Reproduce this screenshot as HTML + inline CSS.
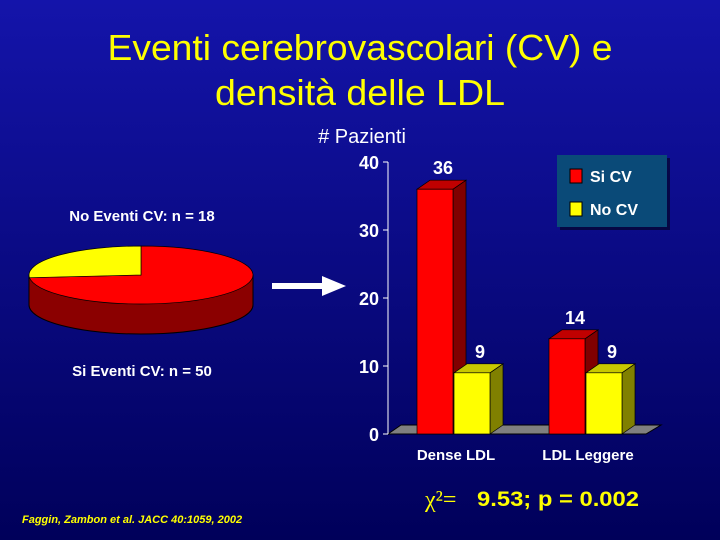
<!DOCTYPE html>
<html><head><meta charset="utf-8"><style>
body{margin:0;width:720px;height:540px;overflow:hidden;background:linear-gradient(#1414aa,#00005a);font-family:"Liberation Sans",sans-serif}
svg{display:block}
</style></head><body>
<svg width="720" height="540">
<g font-family="Liberation Sans, sans-serif">
<text x="360" y="60" fill="#ffff00" font-size="36" text-anchor="middle" textLength="505" lengthAdjust="spacingAndGlyphs">Eventi cerebrovascolari (CV) e</text>
<text x="360" y="105" fill="#ffff00" font-size="36" text-anchor="middle" textLength="290" lengthAdjust="spacingAndGlyphs">densità delle LDL</text>
<text x="142" y="221" fill="#fff" font-size="15" font-weight="bold" text-anchor="middle">No Eventi CV: n = 18</text>
<text x="142" y="376" fill="#fff" font-size="15" font-weight="bold" text-anchor="middle">Si Eventi CV: n = 50</text>
<g id="pie"></g>
<g><rect x="272" y="283" width="56" height="6" fill="#fff"/><polygon points="322,276 346,286 322,296" fill="#fff"/></g>
<text x="362" y="143" fill="#fff" font-size="20" text-anchor="middle"># Pazienti</text>
<g id="chart"></g>
<g>
<rect x="560" y="158" width="110" height="72" fill="#000" opacity="0.5"/>
<rect x="557" y="155" width="110" height="72" fill="#0a4a78"/>
<rect x="570" y="169" width="12" height="14" fill="#ff0000" stroke="#000"/>
<text x="590" y="182" fill="#fff" font-size="16" font-weight="bold">Si CV</text>
<rect x="570" y="202" width="12" height="14" fill="#ffff00" stroke="#000"/>
<text x="590" y="215" fill="#fff" font-size="16" font-weight="bold">No CV</text>
</g>
<text x="425" y="507" fill="#ffff00" font-size="24" font-family="Liberation Serif, serif">χ²=</text>
<text x="477" y="506" fill="#ffff00" font-size="21" font-weight="bold" textLength="162" lengthAdjust="spacingAndGlyphs">9.53; p = 0.002</text>
<text x="22" y="523" fill="#ffff00" font-size="11" font-weight="bold" font-style="italic">Faggin, Zambon et al. JACC 40:1059, 2002</text>
</g>
</svg>
<script>
const categories=["Dense LDL","LDL Leggere"];
const siCV=[36,14];
const noCV=[9,9];
const yTicks=[0,10,20,30,40];
const pieValues=[50,18];
const NS="http://www.w3.org/2000/svg";
function mk(p,t,a){const e=document.createElementNS(NS,t);for(const k in a)e.setAttribute(k,a[k]);p.appendChild(e);return e;}
const chart=document.getElementById('chart');
const y0=434,yTop=162,yMax=40;
function Y(v){return y0-(v/yMax)*(y0-yTop);}
const axisX=388,groupX=[417,549],bw=36,dx=13,dy=9;
const fl=mk(chart,'polygon',{points:`${axisX},${y0} ${axisX+258},${y0} ${axisX+273},${y0-dy} ${axisX+dx},${y0-dy}`,fill:'#808080',stroke:'#000'});


const ax=mk(chart,'line',{x1:axisX,y1:yTop,x2:axisX,y2:y0,stroke:'#fff','stroke-width':1});


yTicks.forEach(t=>{
 mk(chart,'line',{x1:axisX-5,y1:Y(t),x2:axisX,y2:Y(t),stroke:'#fff'});
 const tx=mk(chart,'text',{x:axisX-9,y:Y(t)+7,fill:'#fff','font-size':18,'font-weight':'bold','text-anchor':'end'});
 tx.textContent=t;
 
 
});
function bar(x,v,front,top,side,name){
 const g=mk(chart,'g',{});
 
 
 const yt=Y(v);
 mk(g,'polygon',{points:`${x+bw},${yt} ${x+bw+dx},${yt-dy} ${x+bw+dx},${y0-dy} ${x+bw},${y0}`,fill:side,stroke:'#000','stroke-width':0.7});
 mk(g,'polygon',{points:`${x},${yt} ${x+dx},${yt-dy} ${x+bw+dx},${yt-dy} ${x+bw},${yt}`,fill:top,stroke:'#000','stroke-width':0.7});
 mk(g,'rect',{x:x,y:yt,width:bw,height:y0-yt,fill:front,stroke:'#000','stroke-width':0.7});
 const t=mk(chart,'text',{x:x+bw/2+8,y:yt-dy-6,fill:'#fff','font-size':18,'font-weight':'bold','text-anchor':'middle'});
 t.textContent=v;
 
 
}
categories.forEach((c,i)=>{
 bar(groupX[i],siCV[i],'#ff0000','#c00000','#800000','bar-si-'+i);
 bar(groupX[i]+bw+1,noCV[i],'#ffff00','#c8c800','#808000','bar-no-'+i);
 const t=mk(chart,'text',{x:groupX[i]+bw+3,y:460,fill:'#fff','font-size':15,'font-weight':'bold','text-anchor':'middle'});
 t.textContent=c;
 
 
});
const pie=document.getElementById('pie');
const cx=141,cy=275,rx=112,ry=29,depth=30;
const total=pieValues.reduce((a,b)=>a+b,0);
mk(pie,'path',{d:`M${cx-rx},${cy} L${cx-rx},${cy+depth} A${rx},${ry} 0 0 0 ${cx+rx},${cy+depth} L${cx+rx},${cy} Z`,fill:'#8b0000',stroke:'#000'});
const yAng=pieValues[1]/total*2*Math.PI;
const px=(a)=>cx-rx*Math.sin(a), py=(a)=>cy-ry*Math.cos(a);
const red=mk(pie,'path',{d:`M${cx},${cy} L${cx},${cy-ry} A${rx},${ry} 0 1 1 ${px(yAng)},${py(yAng)} Z`,fill:'#ff0000',stroke:'#000','stroke-width':0.7});


const yel=mk(pie,'path',{d:`M${cx},${cy} L${cx},${cy-ry} A${rx},${ry} 0 0 0 ${px(yAng)},${py(yAng)} Z`,fill:'#ffff00',stroke:'#000','stroke-width':0.7});


</script>
</body></html>
